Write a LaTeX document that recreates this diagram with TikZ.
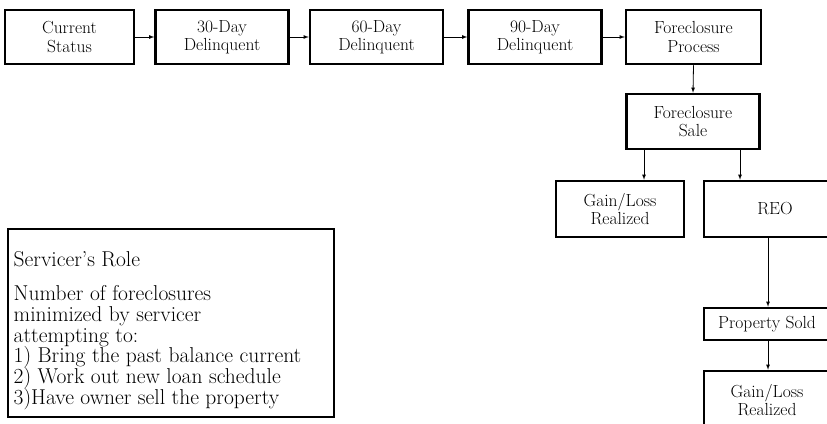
\documentclass[tikz,border=0pt]{standalone}
\usepackage{amsmath}
\usepackage{tikz}

\newcommand{\tightskip}{\setlength{\lineskiplimit}{-6pt}}

\begin{document}
\begin{tikzpicture}[x=1pt,y=-1pt,>=latex,
  stage/.style={draw,line width=2.5pt,minimum width=133pt,minimum height=54pt,
    align=center,inner sep=0pt,font=\fontsize{17.5}{18.5}\selectfont\tightskip},
  flow/.style={->,line width=0.8pt}]
\useasboundingbox (0,0) rectangle (827,423);
\clip (0,0) rectangle (827,423);

\node[stage,minimum width=129pt] (current) at (69.5,37) {Current\\Status};
\node[stage] (late30) at (222,37) {30-Day\\Delinquent};
\node[stage] (late60) at (376.5,37) {60-Day\\Delinquent};
\node[stage] (late90) at (535,37) {90-Day\\Delinquent};
\node[stage,minimum width=135pt] (process) at (693.5,37) {Foreclosure\\Process};

\node[stage,minimum height=55pt] (sale) at (693,121.5) {Foreclosure\\Sale};
\node[stage,minimum width=128pt,minimum height=56pt] (gain) at (620,209) {Gain/Loss\\Realized};
\node[stage,minimum width=142pt,minimum height=56pt] (reo) at (775,209) {REO};
\node[stage,minimum width=126pt,minimum height=32pt] (sold) at (767,324) {Property Sold};
\node[stage,minimum width=126pt,minimum height=58pt] (gainb) at (767,400) {Gain/Loss\\Realized};

\draw[flow]  (current)  --  (late30);
\draw[flow]  (late30)  --  (late60);
\draw[flow]  (late60)  --  (late90);
\draw[flow]  (late90)  --  (process);
\draw[flow]  (process.south)  --  (sale.north);
\draw[flow]  ([xshift=-49pt]sale.south)  --  ([xshift=24pt]gain.north);
\draw[flow]  ([xshift=47pt]sale.south)  --  ([xshift=-35pt]reo.north);
\draw[flow]  ([xshift=-7pt]reo.south)  --  ([xshift=1pt]sold.north);
\draw[flow]  ([xshift=1pt]sold.south)  --  ([xshift=1pt]gainb.north);

% servicer's role box
\node[draw,line width=2pt,minimum width=326pt,minimum height=188pt] (role) at (171,323) {};
\node[anchor=north west,inner sep=0pt,align=left,
  font=\fontsize{21.5}{20.8}\selectfont\tightskip] (roletext)
  at ([xshift=6.5pt,yshift=-23pt]role.north west)
  {Servicer's Role\\[13.5pt]
   Number of foreclosures\\
   minimized by servicer\\
   attempting to:\\
   1) Bring the past balance current\\
   2) Work out new loan schedule\\
   3)Have owner sell the property};

\end{tikzpicture}
\end{document}
